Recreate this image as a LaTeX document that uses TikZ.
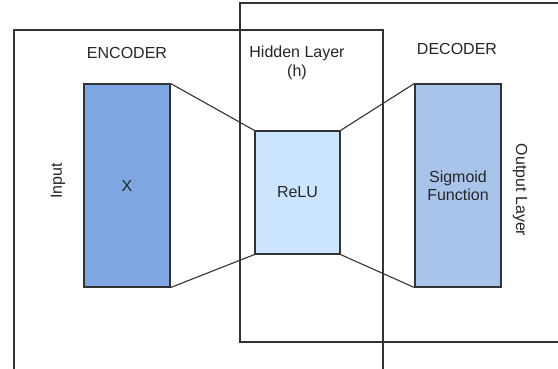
\documentclass[tikz,border=0pt]{standalone}
\usepackage{fontspec}
\setmainfont{Liberation Sans}
\begin{document}
\begin{tikzpicture}[x=1pt,y=-1pt,
  frame/.style={draw=black!80, line width=1.1pt},
  layerbox/.style={draw=black!80, line width=1.1pt, minimum width=86pt, inner sep=0pt, text=black!85, font=\fontsize{16}{19}\selectfont},
  lbl/.style={text=black!85, inner sep=0pt, font=\fontsize{16}{19}\selectfont},
  conn/.style={draw=black!80, line width=1.1pt}]
\definecolor{encfill}{HTML}{7EA6E0}
\definecolor{hidfill}{HTML}{CCE5FF}
\definecolor{decfill}{HTML}{A9C4EB}
\useasboundingbox (0,0) rectangle (558,368);
\fill[white] (0,0) rectangle (558,368);
\begin{scope}
\clip (0,0) rectangle (558,368);
\draw[frame] (14,30) rectangle (383,400);
\draw[frame] (240,3) rectangle (600,342);
\end{scope}
\node[layerbox, fill=encfill, minimum width=86pt, minimum height=203pt] (x) at (127,185.5) {X};
\node[layerbox, fill=hidfill, minimum width=85pt, minimum height=123pt] (relu) at (297.5,192.5) {ReLU};
\node[layerbox, fill=decfill, minimum width=86pt, minimum height=203pt, align=center] (sig) at (458,185.5) {Sigmoid\\[-1pt]Function};
\draw[conn] (x.north east) -- (relu.north west);
\draw[conn] (x.south east) -- (relu.south west);
\draw[conn] (relu.north east) -- (sig.north west);
\draw[conn] (relu.south east) -- (sig.south west);
\node[lbl] (enc) at (127,53) {ENCODER};
\node[lbl, align=center] (hid) at (297,63) {Hidden Layer\\[0pt](h)};
\node[lbl] (dec) at (457,49) {DECODER};
\node[lbl, rotate=90] (inp) at (58,181) {Input};
\node[lbl, rotate=-90] (out) at (520,190) {Output Layer};
\end{tikzpicture}
\end{document}
